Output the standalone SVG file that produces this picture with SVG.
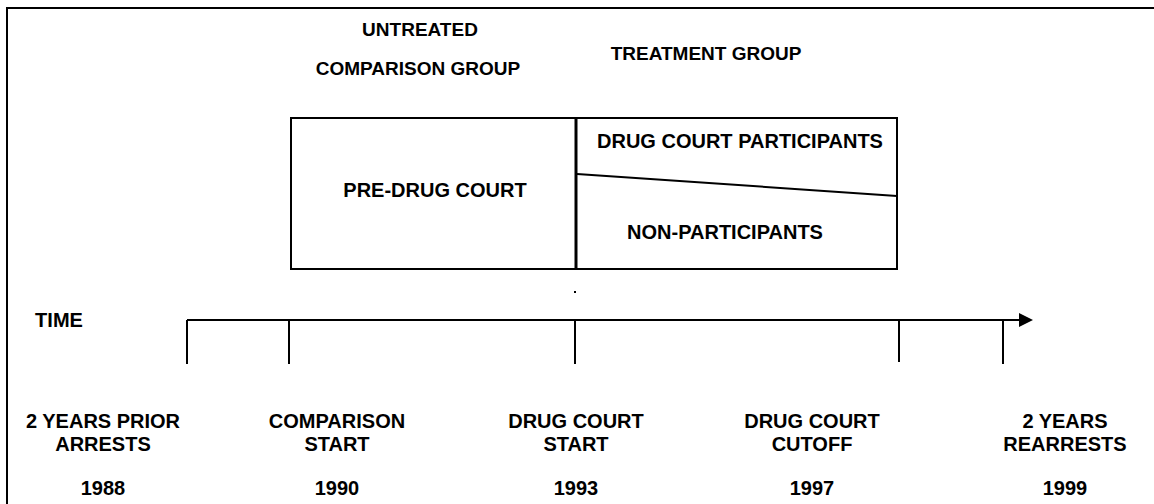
<svg xmlns="http://www.w3.org/2000/svg" width="1154" height="504" viewBox="0 0 1154 504">
<style>
text{font-family:"Liberation Sans",Arial,sans-serif;font-weight:bold;font-size:20px;fill:#000;text-anchor:middle}
text.top{font-size:19px}
.ln{stroke:#000;stroke-width:2;fill:none}
</style>
<rect width="1154" height="504" fill="#fff"/>
<g id="frame"><path class="ln" d="M7,504 V8 H1154"/></g>
<g id="group-labels">
<text class="top" x="420" y="36">UNTREATED</text>
<text class="top" x="418" y="75">COMPARISON GROUP</text>
<text class="top" x="706" y="60">TREATMENT GROUP</text>
</g>
<g id="box">
<rect class="ln" x="291" y="118" width="606" height="151"/>
<line x1="576" y1="118" x2="576" y2="270" stroke="#000" stroke-width="3"/>
<line x1="577" y1="174" x2="897" y2="196" stroke="#000" stroke-width="2"/>
</g>
<g id="pre-drug-court"><text x="435" y="197">PRE-DRUG COURT</text></g>
<g id="participants"><text x="740" y="148">DRUG COURT PARTICIPANTS</text></g>
<g id="non-participants"><text x="725" y="239">NON-PARTICIPANTS</text></g>
<rect x="574" y="291" width="2" height="2" fill="#000"/>
<g id="timeline">
<text x="59" y="327">TIME</text>
<g id="connectors">
<line class="ln" x1="187" y1="320" x2="1021" y2="320"/>
<polygon points="1019,313 1033,320 1019,327" fill="#000"/>
<line class="ln" x1="187" y1="320" x2="187" y2="364"/>
<line class="ln" x1="289" y1="320" x2="289" y2="364"/>
<line class="ln" x1="575" y1="320" x2="575" y2="364"/>
<line class="ln" x1="899" y1="320" x2="899" y2="362"/>
<line class="ln" x1="1003" y1="320" x2="1003" y2="364"/>
</g>
</g>
<g id="t1988"><text x="103" y="428">2 YEARS PRIOR</text><text x="103" y="451">ARRESTS</text><text x="103" y="495">1988</text></g>
<g id="t1990"><text x="337" y="428">COMPARISON</text><text x="337" y="451">START</text><text x="337" y="495">1990</text></g>
<g id="t1993"><text x="576" y="428">DRUG COURT</text><text x="576" y="451">START</text><text x="576" y="495">1993</text></g>
<g id="t1997"><text x="812" y="428">DRUG COURT</text><text x="812" y="451">CUTOFF</text><text x="812" y="495">1997</text></g>
<g id="t1999"><text x="1065" y="428">2 YEARS</text><text x="1065" y="451">REARRESTS</text><text x="1065" y="495">1999</text></g>
</svg>
